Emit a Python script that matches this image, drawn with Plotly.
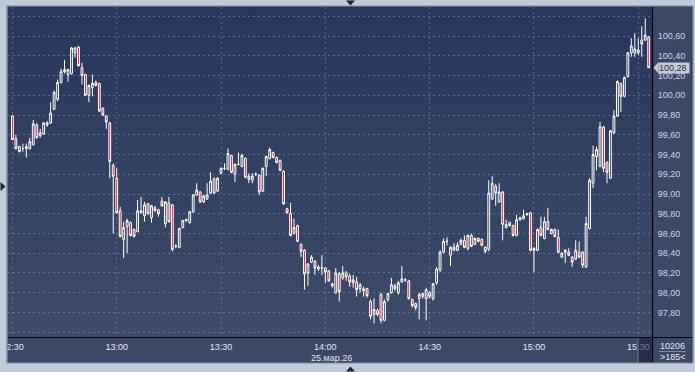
import base64
import pandas as pd
import plotly.graph_objects as go

# ---------------- data (1-minute candles, 25.03.26 from 12:30) ----------------
start_time = "2026-03-25 12:30"
open_ = [99.79, 99.56, 99.48, 99.46, 99.46, 99.46, 99.50, 99.70, 99.59, 99.61,
         99.70, 99.72, 99.86, 99.96, 100.13, 100.24, 100.21, 100.22, 100.43, 100.49,
         100.28, 100.21, 100.00, 100.08, 100.13, 100.12, 99.87, 99.79, 99.72, 99.29,
         99.16, 98.83, 98.54, 98.67, 98.71, 98.64, 98.62, 98.83, 98.78, 98.90,
         98.76, 98.86, 98.84, 98.93, 98.70, 98.91, 98.89, 98.47, 98.46, 98.66,
         98.73, 98.71, 98.82, 98.99, 99.02, 98.92, 98.95, 99.01, 99.15, 99.03,
         99.21, 99.26, 99.25, 99.39, 99.20, 99.30, 99.28, 99.36, 99.18, 99.14,
         99.20, 99.19, 99.03, 99.28, 99.36, 99.42, 99.37, 99.34, 99.23, 98.85,
         98.80, 98.60, 98.68, 98.49, 98.43, 98.20, 98.31, 98.32, 98.24, 98.25,
         98.25, 98.22, 98.07, 98.00, 98.19, 98.15, 98.20, 98.17, 98.10, 98.11,
         98.04, 98.02, 98.04, 97.91, 97.78, 97.82, 97.98, 97.72, 97.93, 98.00,
         98.07, 98.00, 98.11, 98.13, 98.12, 97.93, 97.89, 97.94, 97.96, 97.94,
         98.00, 97.94, 98.10, 98.23, 98.41, 98.52, 98.38, 98.43, 98.43, 98.49,
         98.53, 98.45, 98.58, 98.49, 98.55, 98.54, 98.46, 98.44, 98.95, 99.08,
         98.92, 99.02, 98.66, 98.71, 98.68, 98.58, 98.74, 98.75, 98.79, 98.81,
         98.43, 98.43, 98.66, 98.55, 98.72, 98.60, 98.64, 98.56, 98.36, 98.41,
         98.41, 98.36, 98.34, 98.41, 98.41, 98.26, 98.65, 99.11, 99.38, 99.28,
         99.68, 99.32, 99.16, 99.62, 99.79, 100.12, 99.99, 100.19, 100.43, 100.43,
         100.43, 100.56, 100.56, 100.59]
high = [99.80, 99.60, 99.49, 99.51, 99.51, 99.57, 99.75, 99.72, 99.66, 99.73,
        99.74, 99.93, 100.05, 100.16, 100.27, 100.36, 100.27, 100.49, 100.49, 100.50,
        100.33, 100.22, 100.11, 100.21, 100.15, 100.13, 99.88, 99.80, 99.73, 99.31,
        99.26, 98.87, 98.72, 98.75, 98.72, 98.65, 98.94, 98.97, 98.92, 98.91,
        98.89, 98.88, 98.85, 98.97, 98.93, 98.97, 98.90, 98.49, 98.66, 98.74,
        98.75, 98.83, 99.00, 99.11, 99.03, 98.99, 99.11, 99.22, 99.17, 99.17,
        99.27, 99.31, 99.46, 99.40, 99.31, 99.42, 99.41, 99.37, 99.21, 99.21,
        99.22, 99.20, 99.27, 99.39, 99.47, 99.43, 99.38, 99.35, 99.24, 98.86,
        98.91, 98.75, 98.69, 98.50, 98.44, 98.30, 98.38, 98.33, 98.28, 98.38,
        98.26, 98.23, 98.10, 98.25, 98.21, 98.27, 98.22, 98.19, 98.18, 98.16,
        98.10, 98.06, 98.05, 97.93, 97.94, 97.84, 98.00, 97.93, 98.00, 98.15,
        98.09, 98.12, 98.27, 98.15, 98.13, 97.94, 97.90, 98.00, 98.00, 98.05,
        98.02, 98.10, 98.26, 98.43, 98.55, 98.56, 98.47, 98.50, 98.51, 98.55,
        98.58, 98.59, 98.60, 98.56, 98.56, 98.55, 98.47, 99.14, 99.18, 99.10,
        99.11, 99.03, 98.74, 98.72, 98.69, 98.79, 98.77, 98.84, 98.81, 98.82,
        98.46, 98.65, 98.77, 98.77, 98.86, 98.65, 98.65, 98.64, 98.41, 98.44,
        98.45, 98.37, 98.53, 98.52, 98.42, 98.77, 99.16, 99.49, 99.48, 99.73,
        99.69, 99.33, 99.65, 99.85, 100.15, 100.13, 100.19, 100.44, 100.58, 100.63,
        100.58, 100.70, 100.78, 100.60]
low = [99.55, 99.45, 99.42, 99.43, 99.37, 99.45, 99.49, 99.56, 99.57, 99.60,
       99.68, 99.71, 99.85, 99.94, 100.12, 100.22, 100.14, 100.21, 100.38, 100.29,
       100.11, 99.99, 99.93, 99.99, 100.09, 99.83, 99.79, 99.66, 99.16, 98.60,
       98.80, 98.56, 98.35, 98.40, 98.57, 98.56, 98.61, 98.80, 98.72, 98.79,
       98.71, 98.82, 98.77, 98.87, 98.66, 98.71, 98.42, 98.45, 98.45, 98.65,
       98.72, 98.70, 98.81, 98.98, 98.91, 98.91, 98.94, 99.00, 99.00, 99.02,
       99.20, 99.24, 99.24, 99.21, 99.12, 99.29, 99.27, 99.16, 99.11, 99.11,
       99.18, 98.99, 99.02, 99.18, 99.35, 99.36, 99.31, 99.23, 98.89, 98.80,
       98.57, 98.59, 98.51, 98.36, 98.03, 98.07, 98.30, 98.18, 98.22, 98.18,
       98.10, 98.11, 98.05, 97.99, 97.91, 98.13, 98.12, 98.06, 98.05, 97.96,
       98.00, 97.96, 97.95, 97.73, 97.69, 97.76, 97.69, 97.71, 97.91, 97.99,
       98.02, 97.98, 98.10, 98.11, 97.93, 97.85, 97.82, 97.73, 97.94, 97.72,
       97.94, 97.92, 98.08, 98.21, 98.40, 98.48, 98.27, 98.42, 98.42, 98.48,
       98.45, 98.43, 98.46, 98.48, 98.51, 98.47, 98.40, 98.42, 98.94, 98.88,
       98.91, 98.53, 98.65, 98.67, 98.57, 98.57, 98.73, 98.74, 98.78, 98.42,
       98.21, 98.42, 98.57, 98.54, 98.63, 98.59, 98.56, 98.40, 98.35, 98.30,
       98.37, 98.26, 98.33, 98.35, 98.25, 98.25, 98.64, 99.06, 99.24, 99.27,
       99.22, 99.11, 99.15, 99.61, 99.78, 99.83, 99.98, 100.18, 100.39, 100.39,
       100.41, 100.39, 100.55, 100.28]
close = [99.55, 99.46, 99.43, 99.46, 99.48, 99.53, 99.71, 99.57, 99.62, 99.72,
         99.72, 99.82, 100.03, 100.13, 100.24, 100.26, 100.26, 100.48, 100.48, 100.30,
         100.20, 100.00, 100.10, 100.12, 100.10, 99.84, 99.80, 99.73, 99.33, 99.18,
         98.81, 98.57, 98.66, 98.73, 98.58, 98.57, 98.83, 98.81, 98.89, 98.80,
         98.88, 98.83, 98.80, 98.88, 98.92, 98.72, 98.44, 98.47, 98.65, 98.73,
         98.74, 98.82, 98.99, 99.04, 98.92, 98.98, 98.99, 99.13, 99.01, 99.16,
         99.26, 99.26, 99.41, 99.22, 99.30, 99.30, 99.39, 99.17, 99.15, 99.18,
         99.20, 99.02, 99.26, 99.38, 99.45, 99.37, 99.32, 99.24, 98.90, 98.81,
         98.58, 98.66, 98.52, 98.42, 98.19, 98.29, 98.36, 98.25, 98.26, 98.25,
         98.21, 98.12, 98.09, 98.20, 98.01, 98.20, 98.16, 98.11, 98.13, 98.03,
         98.08, 98.04, 97.97, 97.76, 97.83, 97.78, 97.72, 97.91, 97.99, 98.08,
         98.04, 98.10, 98.14, 98.13, 97.94, 97.87, 97.85, 97.98, 97.99, 98.03,
         97.96, 98.09, 98.24, 98.41, 98.52, 98.52, 98.46, 98.46, 98.48, 98.53,
         98.46, 98.58, 98.47, 98.55, 98.52, 98.48, 98.42, 99.01, 99.11, 99.01,
         99.02, 98.69, 98.69, 98.68, 98.58, 98.74, 98.76, 98.78, 98.80, 98.43,
         98.45, 98.64, 98.58, 98.72, 98.64, 98.64, 98.57, 98.41, 98.40, 98.43,
         98.38, 98.31, 98.43, 98.36, 98.28, 98.70, 99.14, 99.40, 99.45, 99.68,
         99.26, 99.22, 99.64, 99.79, 100.14, 99.99, 100.18, 100.43, 100.50, 100.47,
         100.46, 100.52, 100.61, 100.28]
price_ticks = [97.60, 97.80, 98.00, 98.20, 98.40, 98.60, 98.80, 99.00, 99.20,
               99.40, 99.60, 99.80, 100.00, 100.20, 100.40, 100.60, 100.80]
labelled_range = (97.80, 100.60)
volume_label = "10206"
count_label = ">185<"
date_label = "25.мар.26"

times = pd.date_range(start_time, periods=len(close), freq="min")

# ---------------- geometry helpers (page pixels -> paper) ----------------
W, H = 695, 372
PL, PR, PT, PB = 8, 652, 7, 337


def px(x):
    return (x - PL) / (PR - PL)


def py(y):
    return (PB - y) / (PB - PT)


PANEL = "#3c4865"
LIGHT = "#c1cad8"
GRID = "rgba(150,165,195,0.45)"
FONT = "Liberation Sans, Arial, sans-serif"

svg = ('<svg xmlns="http://www.w3.org/2000/svg" width="10" height="100" '
       'preserveAspectRatio="none"><defs><linearGradient id="g" x1="0" y1="0" '
       'x2="0" y2="1"><stop offset="0" stop-color="#27365a"/>'
       '<stop offset="1" stop-color="#3e4b6a"/></linearGradient></defs>'
       '<rect width="10" height="100" fill="url(#g)"/></svg>')
bg_src = "data:image/svg+xml;base64," + base64.b64encode(svg.encode()).decode()

fig = go.Figure()
fig.add_trace(go.Candlestick(
    x=times, open=open_, high=high, low=low, close=close,
    increasing=dict(line=dict(color="#ffffff", width=1), fillcolor="rgba(0,0,0,0)"),
    decreasing=dict(line=dict(color="#ffffff", width=1), fillcolor="#cc1236"),
    whiskerwidth=0, hoverinfo="skip", showlegend=False,
))

x_start = times[0] - pd.Timedelta(seconds=76)
x_end = times[-1] + pd.Timedelta(seconds=57)

tick_text = [f"{v:.2f}".replace(".", ",") if labelled_range[0] - 1e-9 <= v <= labelled_range[1] + 1e-9 else ""
             for v in price_ticks]

fig.update_layout(
    template="none",
    width=W, height=H,
    margin=dict(l=PL, r=W - PR, t=PT, b=H - PB, pad=0),
    paper_bgcolor=PANEL, plot_bgcolor="#303e5e",
    separators=", ",
    boxgap=0.25,
    xaxis=dict(
        type="date", range=[x_start, x_end], rangeslider=dict(visible=False),
        tick0=start_time, dtick=30 * 60 * 1000, tickformat="%H:%M",
        showgrid=True, gridcolor=GRID, griddash="2px,3px", gridwidth=1,
        ticks="outside", ticklen=1, tickcolor="rgba(0,0,0,0)",
        tickfont=dict(color="#e2e8f0", family=FONT, size=9),
        showline=False, zeroline=False, fixedrange=True, automargin=False,
    ),
    yaxis=dict(
        side="right", range=[97.551, 100.895],
        tickmode="array", tickvals=price_ticks, ticktext=tick_text,
        showgrid=True, gridcolor=GRID, griddash="2px,3px", gridwidth=1,
        ticks="outside", ticklen=3, tickcolor="rgba(0,0,0,0)",
        tickfont=dict(color="#c9d7ee", family=FONT, size=9),
        showline=False, zeroline=False, fixedrange=True, automargin=False,
    ),
    images=[dict(source=bg_src, xref="paper", yref="paper", x=0, y=1, sizex=1, sizey=1,
                 sizing="stretch", layer="below", xanchor="left", yanchor="top")],
)

shapes = []
# dark highlight under the last time label
shapes.append(dict(type="rect", xref="paper", yref="paper", x0=px(638), x1=px(651.5),
                   y0=py(363), y1=py(337.5), fillcolor="rgba(20,28,48,0.55)",
                   line=dict(width=0), layer="above"))
shapes.append(dict(type="line", xref="paper", yref="paper", x0=px(638), x1=px(638),
                   y0=py(363), y1=py(337.5), line=dict(color="#6d7891", width=1), layer="above"))
# separators
shapes.append(dict(type="line", xref="paper", yref="paper", x0=px(652.5), x1=px(652.5),
                   y0=py(363), y1=py(PT), line=dict(color="#05070c", width=1.2), layer="above"))
shapes.append(dict(type="line", xref="paper", yref="paper", x0=px(PL), x1=px(693),
                   y0=py(337.5), y1=py(337.5), line=dict(color="#05070c", width=1.2), layer="above"))
# small line between the two counters
shapes.append(dict(type="line", xref="paper", yref="paper", x0=px(659), x1=px(686),
                   y0=py(351.5), y1=py(351.5), line=dict(color="#7d8aa3", width=1), layer="above"))
# light outer frame
for x0, x1, y0, y1 in [(0, PL - 1, 0, H), (0, W, 0, PT - 1), (693, W, 0, H), (0, W, 363, H)]:
    shapes.append(dict(type="rect", xref="paper", yref="paper", x0=px(x0), x1=px(x1),
                       y0=py(y1), y1=py(y0), fillcolor=LIGHT, line=dict(width=0), layer="above"))
shapes.append(dict(type="line", xref="paper", yref="paper", x0=px(PL - 1), x1=px(PL - 1),
                   y0=py(363), y1=py(PT - 1), line=dict(color="#7f8ba1", width=1.5), layer="above"))
shapes.append(dict(type="line", xref="paper", yref="paper", x0=px(PL - 1), x1=px(693),
                   y0=py(PT - 1), y1=py(PT - 1), line=dict(color="#7f8ba1", width=1), layer="above"))
shapes.append(dict(type="line", xref="paper", yref="paper", x0=px(PL - 1), x1=px(693),
                   y0=py(363), y1=py(363), line=dict(color="#7f8ba1", width=1), layer="above"))
shapes.append(dict(type="line", xref="paper", yref="paper", x0=px(693), x1=px(693),
                   y0=py(363), y1=py(PT - 1), line=dict(color="#7f8ba1", width=1), layer="above"))


def tri(points):
    p = "M " + " L ".join(f"{px(a)},{py(b)}" for a, b in points) + " Z"
    return dict(type="path", xref="paper", yref="paper", path=p,
                fillcolor="#1b2336", line=dict(width=0), layer="above")


# navigation triangles
shapes.append(tri([(346, 0.5), (355, 0.5), (350.5, 5.5)]))
shapes.append(tri([(0.5, 182), (0.5, 191), (5.5, 186.5)]))
shapes.append(tri([(346, 371.5), (355, 371.5), (350.5, 366.5)]))

# last price marker arrow (anchored to last close)
last = close[-1]
shapes.append(dict(type="path", xref="paper", yref="y",
                   path=f"M {px(653.5)},{last} L {px(658.5)},{last + 0.058} L {px(658.5)},{last - 0.058} Z",
                   fillcolor="#c5cad3", line=dict(width=0), layer="above"))
fig.update_layout(shapes=shapes)

annotations = [
    dict(xref="paper", yref="y", x=px(658), y=last, xanchor="left", yanchor="middle",
         text=f"{last:.2f}".replace(".", ",") + " ", showarrow=False, bgcolor="#c5cad3",
         borderpad=0, font=dict(color="#27324b", family=FONT, size=9)),
    dict(xref="x", yref="paper", x=times[90], y=py(358), xshift=6, xanchor="center", yanchor="middle",
         text=date_label, showarrow=False, font=dict(color="#e2e8f0", family=FONT, size=9)),
    dict(xref="paper", yref="paper", x=px(672.5), y=py(346), xanchor="center", yanchor="middle",
         text=volume_label, showarrow=False, font=dict(color="#e2e8f0", family=FONT, size=9)),
    dict(xref="paper", yref="paper", x=px(672.5), y=py(357.5), xanchor="center", yanchor="middle",
         text=count_label.replace("<", "&lt;").replace(">", "&gt;"), showarrow=False,
         font=dict(color="#e2e8f0", family=FONT, size=9)),
]
fig.update_layout(annotations=annotations)

fig.write_html("out.html", config={"displayModeBar": False, "staticPlot": True})
